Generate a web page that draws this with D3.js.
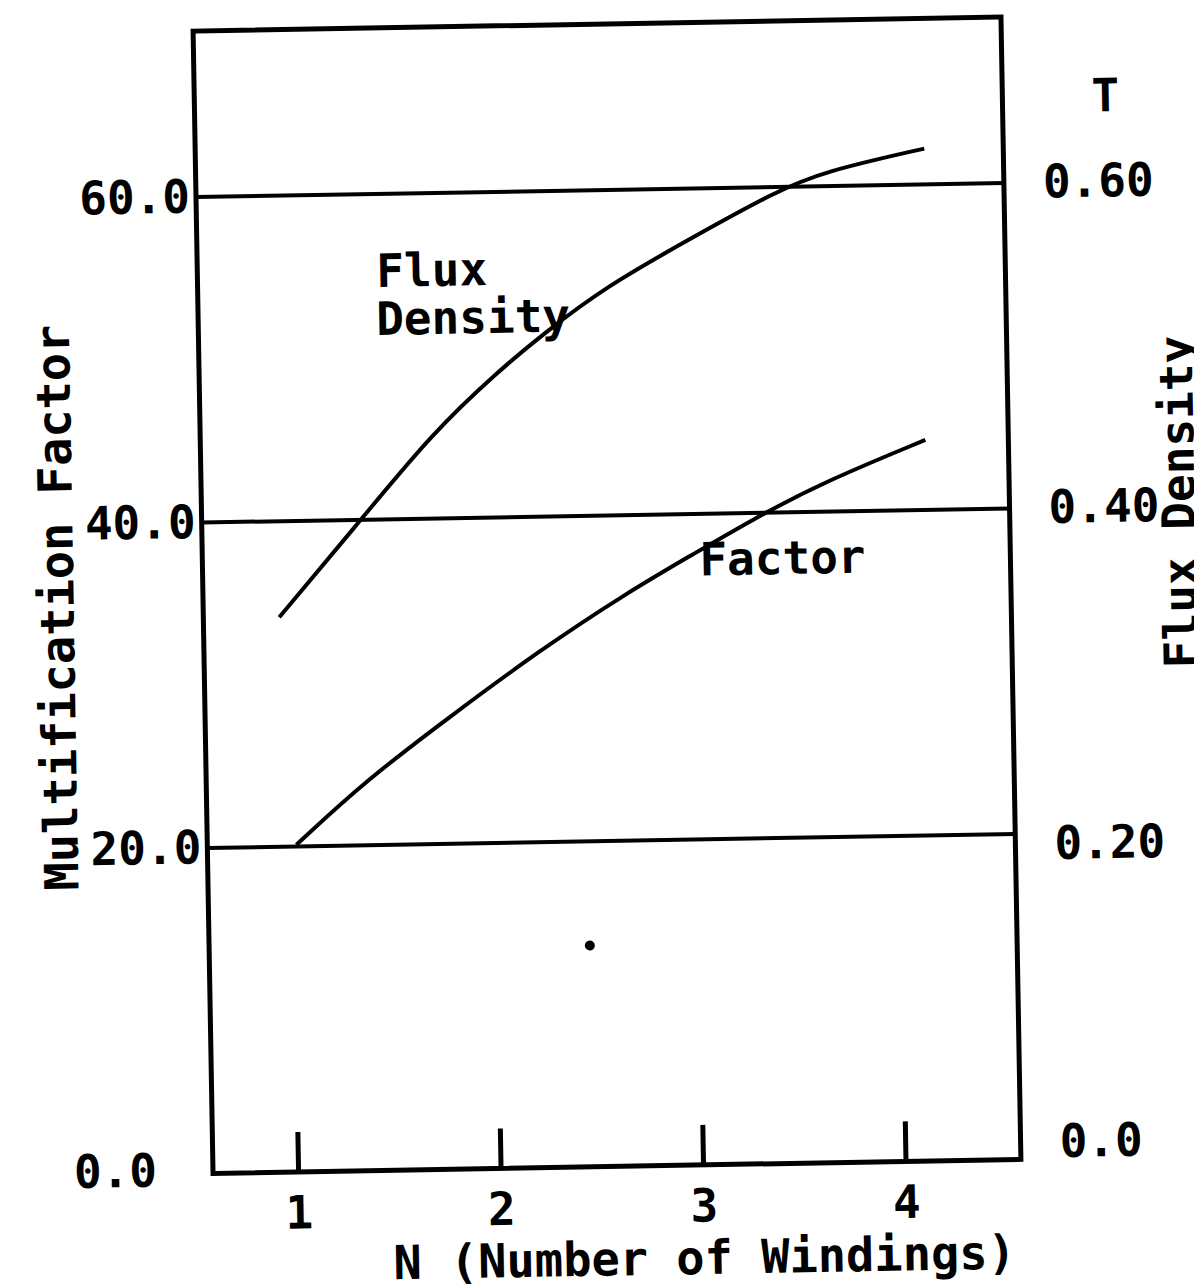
<!DOCTYPE html>
<html>
<head>
    <script src="https://d3js.org/d3.v7.min.js"></script>
    <style>
        body {
            margin: 0;
            background: #fff;
        }
        text {
            font-family: 'DejaVu Sans Mono', monospace;
            font-weight: bold;
            font-size: 46px;
            fill: #000;
        }
        .frame, .grid, .curve {
            fill: none;
            stroke: #000;
        }
    </style>
</head>
<body>
<div id="chart"></div>
<script>
    // values
    const fluxN = [0.955, 1.36, 1.73, 2.06, 2.28, 2.60, 3.03, 3.44, 3.68, 4.18];
    const fluxT = [0.341, 0.399, 0.453, 0.490, 0.512, 0.541, 0.570, 0.597, 0.609, 0.622];

    const factorN = [1.02, 1.37, 1.81, 2.24, 2.67, 3.00, 3.30, 3.65, 4.16];
    const factorValues = [20.1, 24.0, 28.0, 31.8, 35.2, 37.5, 39.6, 41.8, 44.3];

    const xTicks = [1, 2, 3, 4];
    const leftTicks = [0, 20, 40, 60];
    const rightTicks = [0, 0.2, 0.4, 0.6];
    const gridValues = [20, 40, 60];

    // stray ink spot in the scan
    const specks = [{ n: 2.46, v: 13.6 }];

    const width = 1194, height = 1284;
    const L = 203, R = 1011, T = 24, B = 1166.5;

    const svg = d3.select('#chart').append('svg')
        .attr('width', width)
        .attr('height', height)
        .style('background', '#fff');

    // the scan is tilted by about one degree
    const g = svg.append('g').attr('transform', 'rotate(-1, 607, 595)');

    const x = d3.scaleLinear().domain([0.58, 4.57]).range([L, R]);
    const y = d3.scaleLinear().domain([0, 70.2]).range([B, T]);
    const yRight = d3.scaleLinear().domain([0, 0.702]).range([B, T]);

    // gridlines
    g.append('g').selectAll('line')
        .data(gridValues)
        .join('line')
        .attr('class', 'grid')
        .attr('x1', L).attr('x2', R)
        .attr('y1', d => y(d)).attr('y2', d => y(d))
        .attr('stroke-width', 4);

    // frame
    g.append('rect')
        .attr('class', 'frame')
        .attr('x', L).attr('y', T)
        .attr('width', R - L).attr('height', B - T)
        .attr('stroke-width', 5);

    // bottom axis, ticks pointing inward
    const xAxis = g.append('g')
        .attr('transform', `translate(0,${B})`)
        .call(d3.axisBottom(x).tickValues(xTicks).tickSize(-40).tickPadding(24).tickFormat(d3.format('d')));
    xAxis.select('.domain').remove();
    xAxis.selectAll('.tick line').attr('stroke', '#000').attr('stroke-width', 5);
    xAxis.selectAll('text').attr('fill', '#000').style('font-size', '46px');

    // left axis (labels only)
    const yAxis = g.append('g')
        .attr('transform', `translate(${L},0)`)
        .call(d3.axisLeft(y).tickValues(leftTicks).tickSize(0).tickPadding(6).tickFormat(d3.format('.1f')));
    yAxis.select('.domain').remove();
    yAxis.selectAll('text').attr('fill', '#000').style('font-size', '46px');
    yAxis.selectAll('.tick').filter(d => d === 0).select('text').attr('x', -56).attr('dy', '0.25em');

    // right axis (labels only)
    const yRAxis = g.append('g')
        .attr('transform', `translate(${R},0)`)
        .call(d3.axisRight(yRight).tickValues(rightTicks).tickSize(0).tickPadding(39)
            .tickFormat(d => d === 0 ? '0.0' : d3.format('.2f')(d)));
    yRAxis.select('.domain').remove();
    yRAxis.selectAll('text').attr('fill', '#000').style('font-size', '46px');
    yRAxis.selectAll('.tick').filter(d => d === 0).select('text').attr('dy', '-0.05em');
    yRAxis.selectAll('.tick').filter(d => d === 0.2).select('text').attr('dy', '0.55em');

    g.append('text')
        .attr('x', 1114).attr('y', 104)
        .attr('text-anchor', 'middle')
        .attr('dominant-baseline', 'central')
        .text('T');

    // axis titles
    g.append('text')
        .attr('transform', 'translate(57,598) rotate(-90)')
        .attr('text-anchor', 'middle')
        .attr('dominant-baseline', 'central')
        .style('font-size', '47px')
        .text('Multification Factor');

    g.append('text')
        .attr('transform', 'translate(1180,512) rotate(-90)')
        .attr('text-anchor', 'middle')
        .attr('dominant-baseline', 'central')
        .text('Flux Density');

    g.append('text')
        .attr('x', 693).attr('y', 1259)
        .attr('text-anchor', 'middle')
        .attr('dominant-baseline', 'central')
        .style('font-size', '47px')
        .text('N (Number of Windings)');

    // curves
    const fluxData = fluxN.map((n, i) => ({ n, v: fluxT[i] }));
    const factorData = factorN.map((n, i) => ({ n, v: factorValues[i] }));

    g.append('path')
        .datum(fluxData)
        .attr('class', 'curve')
        .attr('stroke-width', 4)
        .attr('d', d3.line().x(d => x(d.n)).y(d => yRight(d.v)).curve(d3.curveBasis));

    g.append('path')
        .datum(factorData)
        .attr('class', 'curve')
        .attr('stroke-width', 4)
        .attr('d', d3.line().x(d => x(d.n)).y(d => y(d.v)).curve(d3.curveBasis));

    // curve labels
    g.append('text').attr('x', 382).attr('y', 283).text('Flux');
    g.append('text').attr('x', 381).attr('y', 331).text('Density');
    g.append('text').attr('x', 700).attr('y', 577).text('Factor');

    g.append('g').selectAll('circle')
        .data(specks)
        .join('circle')
        .attr('cx', d => x(d.n))
        .attr('cy', d => y(d.v))
        .attr('r', 5)
        .attr('fill', '#000');
</script>
</body>
</html>
